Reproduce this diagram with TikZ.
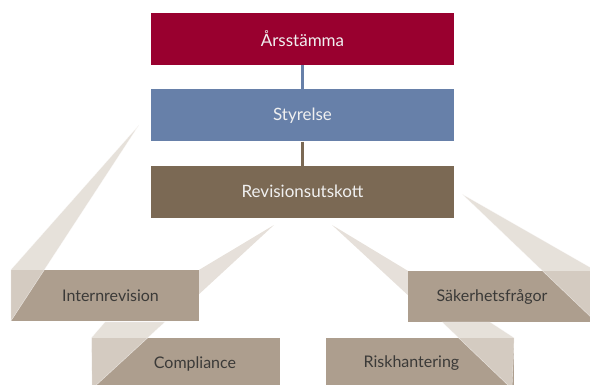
\documentclass[tikz,border=0pt]{standalone}
\usepackage{fontspec}
\setmainfont{Lato}
\usepackage{xcolor}
\usepackage{tikz}
\usetikzlibrary{positioning,backgrounds}
\definecolor{agmred}{HTML}{99002F}
\definecolor{boardblue}{HTML}{6780A9}
\definecolor{auditbrown}{HTML}{7B6954}
\definecolor{unittaupe}{HTML}{AD9E8E}
\definecolor{beamlight}{HTML}{E6E0DA}
\definecolor{beamtint}{HTML}{DFD8D0}
\definecolor{unitink}{HTML}{3B3A38}

\begin{document}
\begin{tikzpicture}[x=1pt,y=-1pt,node distance=24pt,
  topbox/.style={minimum width=303pt,minimum height=52pt,inner sep=0pt,text=white!94!black,font=\fontsize{17}{20}\selectfont},
  unitbox/.style={fill=unittaupe,minimum width=188pt,minimum height=51pt,inner sep=0pt,text=unitink,font=\fontsize{16}{19}\selectfont},
  beamback/.style={fill=beamlight},
  beamfront/.style={fill=beamtint,fill opacity=0.78,draw=white,draw opacity=0.6,line width=0.4pt}]
\useasboundingbox (0,0) rectangle (590,385);
\clip (0,0) rectangle (590,385);
\node[topbox,fill=agmred] (arsst) at (302.5,39) {Årsstämma};
\node[topbox,fill=boardblue,below=of arsst] (styr) {Styrelse};
\node[topbox,fill=auditbrown,below=of styr] (revut) {Revisionsutskott};
\draw[boardblue,line width=2.7pt] (arsst) -- (styr);
\draw[auditbrown,line width=2.7pt] (styr) -- (revut);
\node[unitbox] (intrev) at (105,295.5) {\hspace*{11pt}Internrevision};
\node[unitbox] (compl) at (185.5,363.5) {\hspace*{19pt}Compliance};
\node[unitbox] (sakf) at (502,296.5) {Säkerhetsfrågor\hspace*{20pt}};
\node[unitbox] (risk) at (420,363.5) {Riskhantering\hspace*{17pt}};
\coordinate (irapex) at (139,125);
\coordinate (irback) at (274,225);
\coordinate (skback) at (332,225);
\coordinate (skapex) at (462,194);
\begin{scope}[on background layer]
\fill[beamback] (irback) -- (intrev.north east) -- (170,321) -- cycle;
\fill[beamback] (skback) -- (sakf.north west) -- (437,322) -- cycle;
\end{scope}
\filldraw[beamfront] (irapex) -- (intrev.north west) -- (intrev.south west) -- cycle;
\filldraw[beamfront] (skapex) -- (sakf.north east) -- (sakf.south east) -- cycle;
\filldraw[beamfront] (105,322) -- (165,322) -- (92,389) -- (compl.north west) -- cycle;
\filldraw[beamfront] (442,322) -- (490,322) -- (risk.north east) -- (512,389) -- cycle;
\end{tikzpicture}
\end{document}
